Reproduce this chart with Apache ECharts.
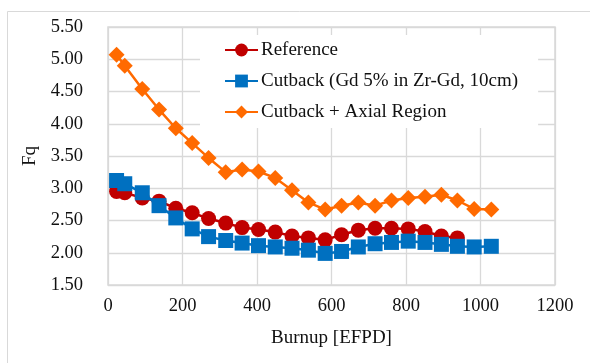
<!DOCTYPE html>
<html>
<head>
<meta charset="utf-8">
<script src="https://cdn.jsdelivr.net/npm/echarts@6/dist/echarts.min.js"></script>
<style>
html,body{margin:0;padding:0;background:#fff;}
#chart{width:590px;height:363px;}
</style>
</head>
<body>
<div id="chart"></div>
<script>
var burnup = [23, 45, 92, 137, 182, 226, 270, 316, 360, 404, 449, 494, 538, 583, 627, 672, 717, 761, 806, 851, 895, 938, 983, 1029];
var referenceFq = [2.95, 2.93, 2.85, 2.80, 2.69, 2.62, 2.53, 2.46, 2.39, 2.36, 2.32, 2.26, 2.23, 2.20, 2.28, 2.35, 2.38, 2.38, 2.37, 2.33, 2.26, 2.23];
var cutbackFq = [3.12, 3.07, 2.93, 2.73, 2.54, 2.37, 2.25, 2.19, 2.15, 2.11, 2.09, 2.07, 2.04, 1.99, 2.02, 2.09, 2.14, 2.16, 2.18, 2.16, 2.13, 2.10, 2.09, 2.10];
var axialFq = [5.07, 4.90, 4.54, 4.22, 3.93, 3.70, 3.47, 3.25, 3.29, 3.26, 3.16, 2.97, 2.78, 2.67, 2.73, 2.78, 2.73, 2.81, 2.85, 2.87, 2.90, 2.81, 2.68, 2.67];
var seriesNames = ['Reference', 'Cutback (Gd 5% in Zr-Gd, 10cm)', 'Cutback + Axial Region'];

function pairs(xs, ys) {
  var out = [];
  for (var i = 0; i < ys.length; i++) out.push([xs[i], ys[i]]);
  return out;
}

var font = '"Liberation Serif", "Times New Roman", serif';
var chart = echarts.init(document.getElementById('chart'), null, {renderer: 'canvas'});
chart.setOption({
  animation: false,
  backgroundColor: '#fff',
  graphic: [{
    type: 'rect', left: 5, top: 9, z: -10,
    shape: {width: 620, height: 400},
    style: {fill: 'none', stroke: '#d9d9d9', lineWidth: 1}
  }],
  grid: {left: 108, right: 35, top: 27, bottom: 78, show: true, borderColor: '#d9d9d9', borderWidth: 1.5},
  legend: {
    orient: 'vertical',
    left: 200, top: 35,
    padding: [5, 20, 6, 24],
    backgroundColor: '#fff',
    itemWidth: 33, itemHeight: 16, itemGap: 11,
    textStyle: {fontFamily: font, fontSize: 19, lineHeight: 20, color: '#111', padding: [0, 0, 0, -2]},
    data: seriesNames
  },
  xAxis: {
    type: 'value', min: 0, max: 1200, interval: 200,
    name: 'Burnup [EFPD]', nameLocation: 'middle', nameGap: 44,
    nameTextStyle: {fontFamily: font, fontSize: 19, color: '#111'},
    axisLine: {show: false}, axisTick: {show: false},
    axisLabel: {fontFamily: font, fontSize: 18.5, color: '#111', margin: 12,
      formatter: function (v) { return String(v); }},
    splitLine: {lineStyle: {color: '#d9d9d9', width: 1.3}}
  },
  yAxis: {
    type: 'value', min: 1.5, max: 5.5, interval: 0.5,
    name: 'Fq', nameLocation: 'middle', nameGap: 68, nameRotate: 90,
    nameTextStyle: {fontFamily: font, fontSize: 19, color: '#111'},
    axisLine: {show: false}, axisTick: {show: false},
    axisLabel: {fontFamily: font, fontSize: 18.5, color: '#111', margin: 25,
      formatter: function (v) { return v.toFixed(2); }},
    splitLine: {lineStyle: {color: '#d9d9d9', width: 1.3}}
  },
  series: [
    {
      name: seriesNames[0], type: 'line', data: pairs(burnup, referenceFq),
      symbol: 'circle', symbolSize: 15, z: 3,
      lineStyle: {color: '#C00000', width: 2.5},
      itemStyle: {color: '#C00000'}
    },
    {
      name: seriesNames[1], type: 'line', data: pairs(burnup, cutbackFq),
      symbol: 'rect', symbolSize: 15, z: 4,
      lineStyle: {color: '#0070C0', width: 2.5},
      itemStyle: {color: '#0070C0'}
    },
    {
      name: seriesNames[2], type: 'line', data: pairs(burnup, axialFq),
      symbol: 'diamond', symbolSize: 16, z: 2,
      lineStyle: {color: '#FF6A00', width: 2.5},
      itemStyle: {color: '#FF6A00'}
    }
  ]
});
</script>
</body>
</html>
